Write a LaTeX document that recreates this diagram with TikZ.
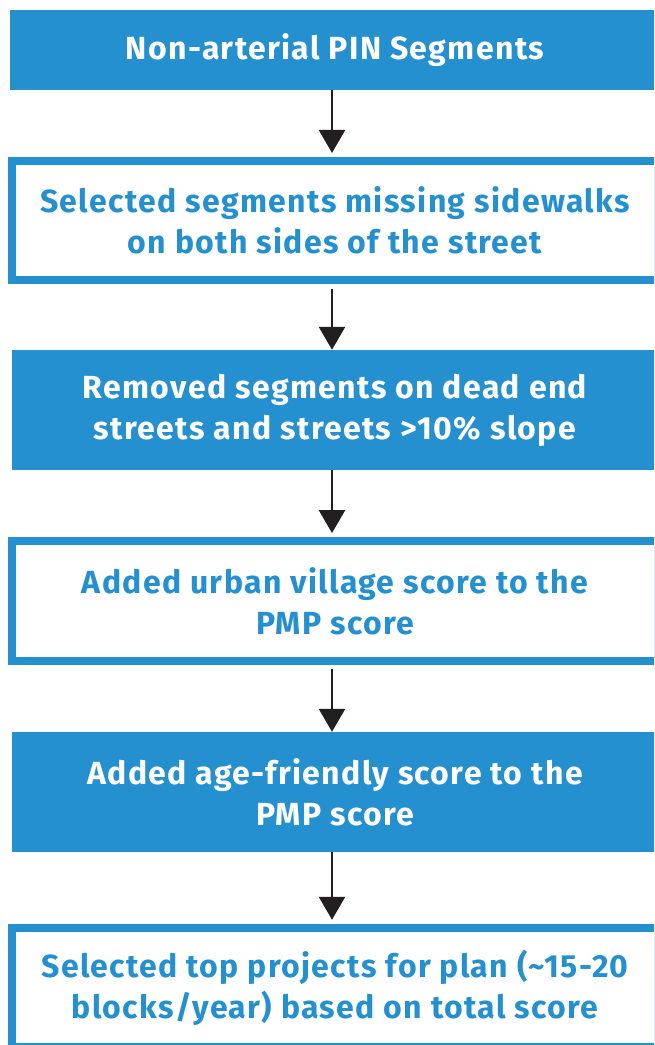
\documentclass[tikz,border=0pt]{standalone}
\usepackage{fontspec}
\setmainfont{Fira Sans}[LetterSpace=4.2]
\usetikzlibrary{arrows.meta}
\definecolor{pmpblue}{RGB}{37,144,208}
\definecolor{arrowblack}{RGB}{35,31,32}
\begin{document}
\begin{tikzpicture}[x=1pt,y=-1pt,
  boxfont/.style={font=\bfseries\fontsize{32}{41}\selectfont},
  bluebox/.style={rectangle, fill=pmpblue, text=white, inner sep=0pt, align=center, boxfont},
  whitebox/.style={rectangle, draw=pmpblue, line width=8pt, fill=white, text=pmpblue, minimum width=646pt, minimum height=119.5pt, inner sep=0pt, align=center, boxfont},
  flowarrow/.style={draw=arrowblack, line width=2.6pt, -{Triangle[width=26pt,length=23pt]}}]
\clip (0,0) rectangle (654,1045);
\fill[white] (0,0) rectangle (654,1045);
\node[bluebox, minimum width=650pt, minimum height=80pt] (b1) at (335,50) {Non-arterial PIN Segments};
\node[whitebox] (b2) at (335,220.7) {Selected segments missing sidewalks\\on both sides of the street};
\node[bluebox, minimum width=646pt, minimum height=120pt] (b3) at (335,410) {Removed segments on dead end\\streets and streets >10\% slope};
\node[whitebox] (b4) at (335,600.8) {Added urban village score to the\\PMP score};
\node[bluebox, minimum width=646pt, minimum height=120pt] (b5) at (335,792) {Added age-friendly score to the\\PMP score};
\node[whitebox] (b6) at (335,987.5) {Selected top projects for plan (\textasciitilde15-20\\blocks/year) based on total score};
\draw[flowarrow, shorten >=4pt] ([xshift=-3pt]b1.south) -- ([xshift=-3pt]b2.north);
\draw[flowarrow, shorten <=4.2pt] ([xshift=-3pt]b2.south) -- ([xshift=-3pt]b3.north);
\draw[flowarrow, shorten >=4pt] ([xshift=-3pt]b3.south) -- ([xshift=-3pt]b4.north);
\draw[flowarrow, shorten <=4.2pt] ([xshift=-3pt]b4.south) -- ([xshift=-3pt]b5.north);
\draw[flowarrow, shorten >=4pt] ([xshift=-3pt]b5.south) -- ([xshift=-3pt]b6.north);
\end{tikzpicture}
\end{document}
